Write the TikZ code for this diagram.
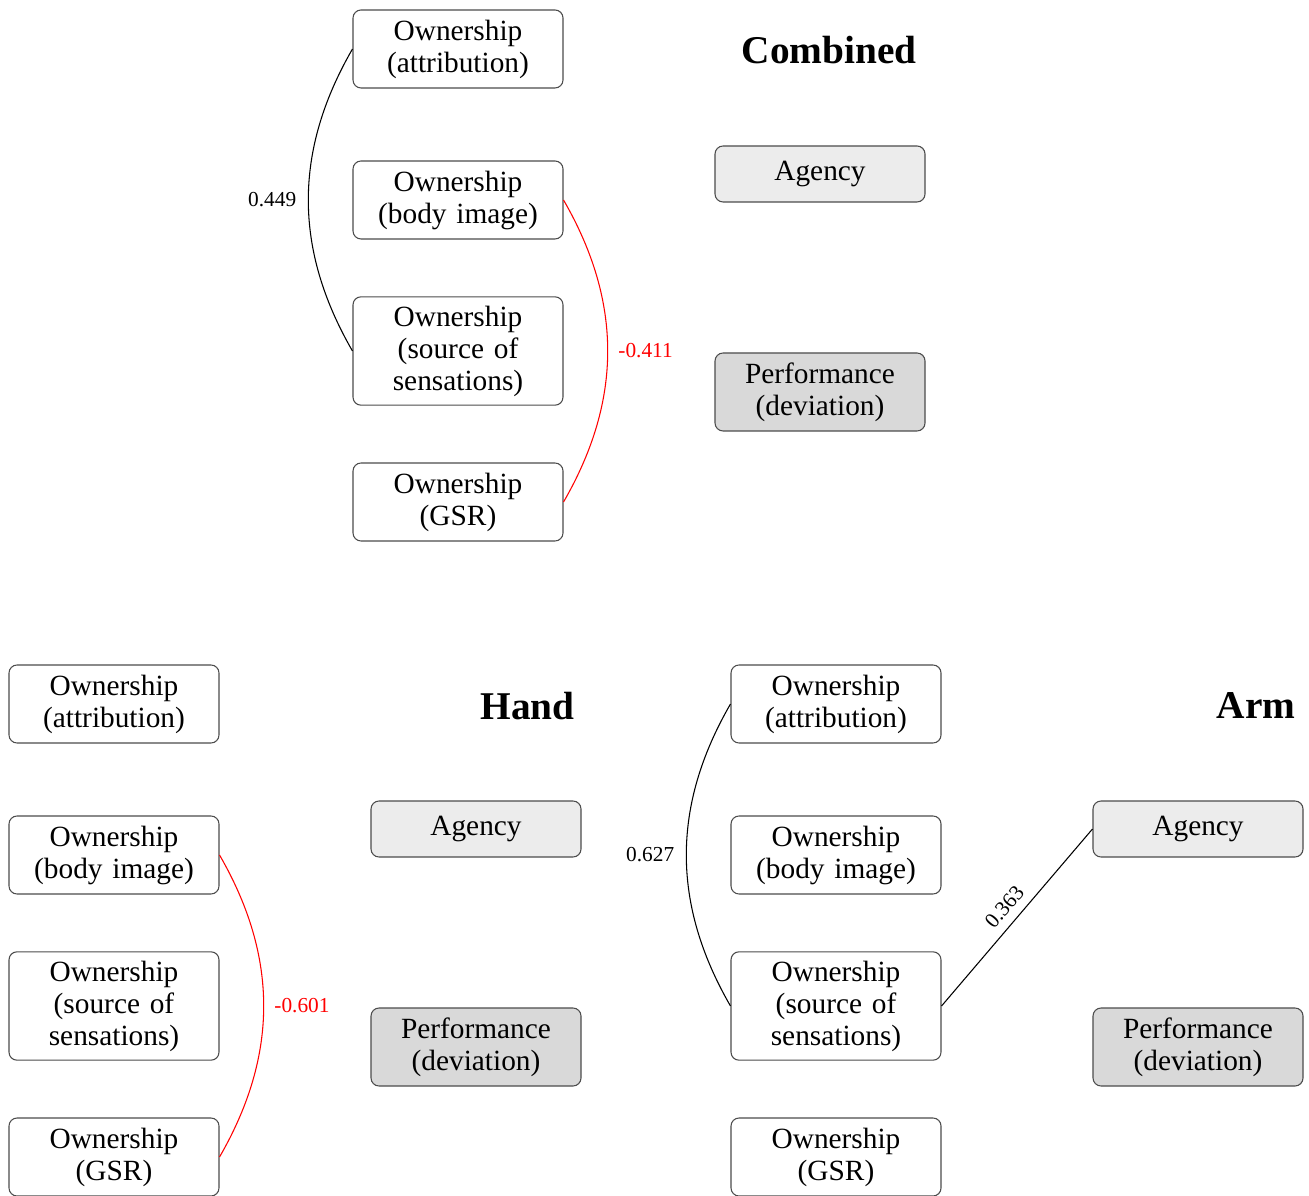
\documentclass[tikz,border=0pt]{standalone}
\usepackage{fontspec}
\setmainfont{Liberation Serif}
\tikzset{
  own/.style={draw=black!70, rounded corners=3pt, text width=64pt, align=center,
    minimum width=78.75pt, minimum height=29.25pt, inner xsep=0pt,
    font=\fontsize{11}{12}\selectfont},
  agency/.style={own, fill=gray!15, minimum height=21pt},
  perf/.style={own, fill=gray!30},
  corr/.style={font=\fontsize{8}{9.6}\selectfont},
  paneltitle/.style={anchor=east, inner sep=0pt, font=\fontsize{14.75}{17}\selectfont\bfseries},
}
\begin{document}
\begin{tikzpicture}[x=0.375pt, y=-0.375pt]
  \useasboundingbox (0,0) rectangle (1309,1196);
  \clip (0,0) rectangle (1309,1196);

  % Combined
  \begin{scope}[name prefix=c-]
    \node[paneltitle] (title) at (917,50) {Combined};
    \node[own] (attr) at (458,49) {Ownership\\(attribution)};
    \node[own] (body) at (458,200) {Ownership\\(body image)};
    \node[own] (src) at (458,351) {Ownership\\(source of\\sensations)};
    \node[own] (gsr) at (458,502) {Ownership\\(GSR)};
    \node[agency] (agency) at (820,174) {Agency};
    \node[perf] (perf) at (820,392) {Performance\\(deviation)};

    % correlations
    \draw (attr.west) to[bend right=30] node[corr, midway, left=1pt] {0.449} (src.west);
    \draw[red] (body.east) to[bend left=30] node[corr, midway, right=0.5pt] {-0.411} (gsr.east);
  \end{scope}

  % Hand
  \begin{scope}[shift={(-344,655)}, name prefix=h-]
    \node[paneltitle] (title) at (919,51) {Hand};
    \node[own] (attr) at (458,49) {Ownership\\(attribution)};
    \node[own] (body) at (458,200) {Ownership\\(body image)};
    \node[own] (src) at (458,351) {Ownership\\(source of\\sensations)};
    \node[own] (gsr) at (458,502) {Ownership\\(GSR)};
    \node[agency] (agency) at (820,174) {Agency};
    \node[perf] (perf) at (820,392) {Performance\\(deviation)};

    % correlations
    \draw[red] (body.east) to[bend left=30] node[corr, midway, right=0.5pt] {-0.601} (gsr.east);
  \end{scope}

  % Arm
  \begin{scope}[shift={(378,655)}, name prefix=a-]
    \node[paneltitle] (title) at (918,51) {Arm};
    \node[own] (attr) at (458,49) {Ownership\\(attribution)};
    \node[own] (body) at (458,200) {Ownership\\(body image)};
    \node[own] (src) at (458,351) {Ownership\\(source of\\sensations)};
    \node[own] (gsr) at (458,502) {Ownership\\(GSR)};
    \node[agency] (agency) at (820,174) {Agency};
    \node[perf] (perf) at (820,392) {Performance\\(deviation)};

    % correlations
    \draw (attr.west) to[bend right=30] node[corr, midway, left=1pt] {0.627} (src.west);
    \draw (src.east) -- node[corr, midway, above, sloped] {0.363} (agency.west);
  \end{scope}
\end{tikzpicture}
\end{document}
